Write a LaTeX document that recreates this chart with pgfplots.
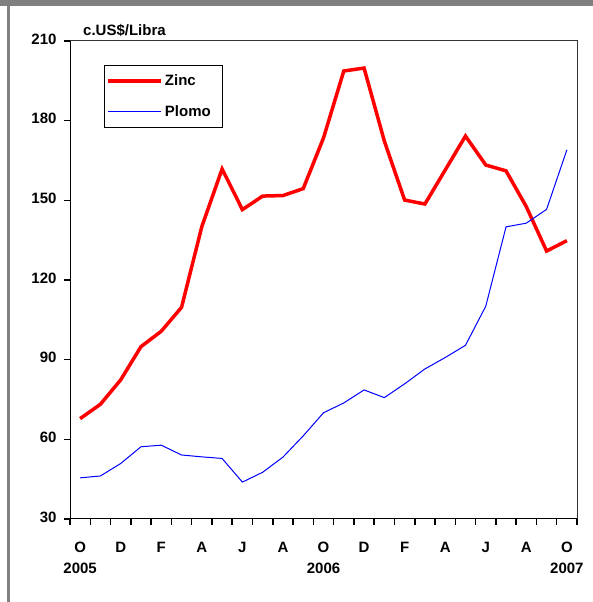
\documentclass[border=0pt]{standalone}
\usepackage{fontspec}
\setmainfont{Liberation Sans}
\usepackage{pgfplots}
\pgfplotsset{compat=1.18}
\newcommand\f{\fontsize{15bp}{21bp}\selectfont\bfseries}
\definecolor{frame}{RGB}{128,128,128}
\begin{document}
\begin{tikzpicture}[x=1bp,y=1bp]
\path[use as bounding box, fill=white] (0,0) rectangle (593,602);
\fill[frame] (0,596) rectangle (593,602);
\fill[frame] (7,0) rectangle (10,596);
\begin{axis}[
  at={(70bp,83bp)}, anchor=south west,
  width=507bp, height=478bp, scale only axis,
  xmin=-0.5, xmax=24.5, ymin=30, ymax=210,
  axis line style={black!80, line width=1bp},
  ytick={30,60,...,210},
  xtick={0,2,...,24},
  xticklabels={{O\\2005},D,F,A,J,A,{O\\2006},D,F,A,J,A,{O\\2007}},
  minor xtick={-0.5,0.5,...,24.5},
  xtick pos=bottom, ytick pos=left,
  tick align=outside,
  major tick length=6bp, minor tick length=6bp,
  every major x tick/.style={draw=none},
  every tick/.style={black, line width=1.5bp},
  minor tick style={black, line width=1.5bp},
  ytick style={black, line width=1.5bp},
  /pgf/number format/assume math mode=true,
  tick label style={font=\f},
  xticklabel style={align=center, yshift=-14bp},
  yticklabel style={xshift=-4bp, yshift=2bp},
  legend style={at={(0.067,0.950)}, anchor=north west, draw=black, line width=1bp,
    font=\f, inner xsep=2bp, inner ysep=7.5bp, row sep=14bp},
  legend cell align=left,
  legend image code/.code={\draw[#1] (0bp,0bp) -- (53bp,0bp);},
]
\addplot[red, line width=3.5bp] coordinates {
(0,67.8) (1,73.2) (2,82.4) (3,94.9) (4,100.7) (5,109.7) (6,140.1) (7,161.8)
(8,146.5) (9,151.6) (10,151.8) (11,154.4) (12,173.5) (13,198.7) (14,199.8)
(15,172.3) (16,150.1) (17,148.6) (18,161.4) (19,174.2) (20,163.3) (21,161.1)
(22,147.6) (23,130.9) (24,134.8)};
\addlegendentry{Zinc}
\addplot[blue, line width=1bp] coordinates {
(0,45.5) (1,46.2) (2,50.9) (3,57.2) (4,57.8) (5,54.1) (6,53.4) (7,52.8)
(8,43.9) (9,47.6) (10,53.3) (11,61.3) (12,70.0) (13,73.7) (14,78.6)
(15,75.7) (16,80.9) (17,86.5) (18,90.8) (19,95.4) (20,110.1) (21,140.0)
(22,141.4) (23,146.6) (24,169.0)};
\addlegendentry{Plomo\rule{8bp}{0pt}}
\draw[black, line width=2bp] (rel axis cs:0,1) -- (rel axis cs:0,0) -- (rel axis cs:1,0);
\end{axis}
\node[anchor=base west, inner sep=0pt, font=\f] at (83,566) {c.US\$/Libra};
\end{tikzpicture}
\end{document}
